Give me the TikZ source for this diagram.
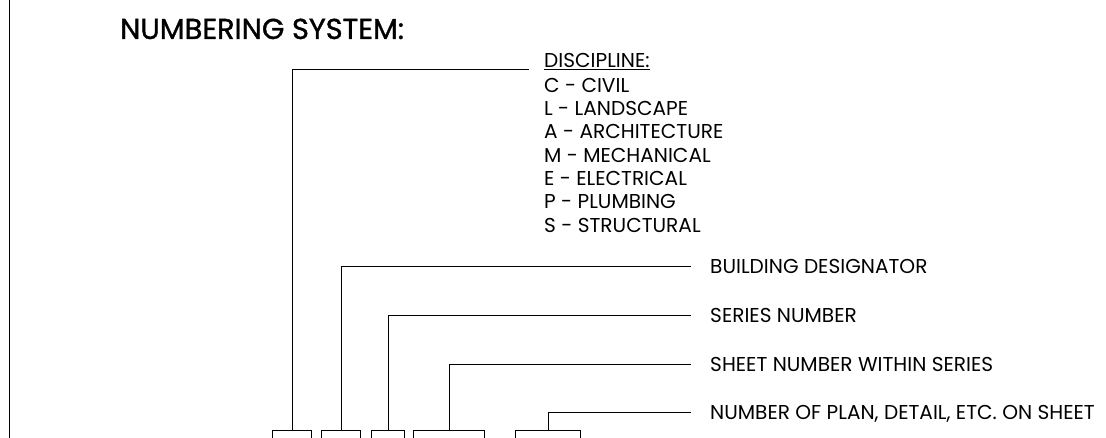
\documentclass[tikz,border=0pt]{standalone}
\usepackage{fontspec}
\setmainfont{Poppins}
\newfontfamily\titlefont{Poppins}[FakeBold=1.2]
\usetikzlibrary{positioning}

\begin{document}
\begin{tikzpicture}[
    x=1pt, y=-1pt,
    node distance=8.4pt,
    label/.style={anchor=west, inner sep=0pt, text height=14pt, text depth=0pt, font=\fontsize{20.1}{23.3}\selectfont},
    listing/.style={anchor=north west, inner sep=0pt, align=left, font=\fontsize{20.1}{23.3}\selectfont},
    heading/.style={inner sep=0pt, font=\titlefont\fontsize{28.8}{34}\selectfont},
    digit/.style={rectangle, draw=black, line width=1pt, minimum height=30pt, inner sep=0pt},
    lead/.style={draw=black, line width=1pt}
]
\clip (0,0) rectangle (1106,438);
\draw [lead] (9.3,0) -- (9.3,438);
\node (title) [heading, anchor=base west] at (120,39) {NUMBERING SYSTEM:};
\node (b1) [digit, minimum width=39.6pt, anchor=north west] at (271.7,430) {};
\node (b2) [digit, minimum width=39.6pt, right=of b1] {};
\node (b3) [digit, minimum width=33.3pt, right=9.7pt of b2] {};
\node (b4) [digit, minimum width=71.3pt, right=7.7pt of b3] {};
\node (b5) [digit, minimum width=65pt, right=29.7pt of b4] {};
\node (dischead) [listing, anchor=base west] at (544,68) {\underline{DISCIPLINE:}};
\node (disclist) [listing] at (544,78) {C - CIVIL\\L - LANDSCAPE\\A - ARCHITECTURE\\M - MECHANICAL\\E - ELECTRICAL\\P - PLUMBING\\S - STRUCTURAL};
\node (bldg) [label] at (710,267) {BUILDING DESIGNATOR};
\node (series) [label] at (710,316) {SERIES NUMBER};
\node (sheet) [label] at (710,364) {SHEET NUMBER WITHIN SERIES};
\node (plan) [label] at (710,412) {NUMBER OF PLAN, DETAIL, ETC. ON SHEET};
\draw [lead] (b1.north) |- ([xshift=-15pt,yshift=-2pt]dischead.base west);
\draw [lead] (b2.north) |- ([xshift=-19pt]bldg.west);
\draw [lead] (b3.north) |- ([xshift=-19pt]series.west);
\draw [lead] (b4.north) |- ([xshift=-19pt]sheet.west);
\draw [lead] (b5.north) |- ([xshift=-19pt]plan.west);
\end{tikzpicture}
\end{document}
